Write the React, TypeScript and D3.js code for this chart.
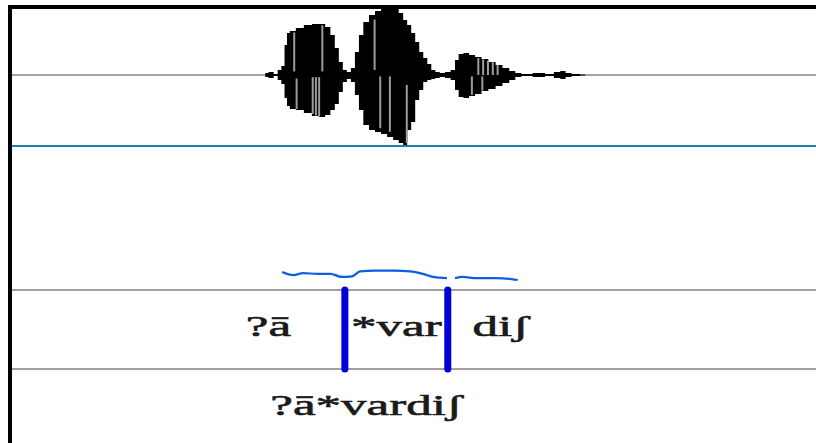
import * as d3 from "d3";

// waveform envelope, time in ms, amplitude -1..1
const envTime = [315, 323, 328, 333, 337, 341, 343, 348, 358, 368, 378, 386, 393, 399, 404, 409, 414, 419, 424, 429, 434, 440, 448, 455, 463, 470, 478, 484, 489, 494, 499, 504, 509, 514, 519, 524, 529, 535, 542, 549, 553, 558, 565, 572, 580, 588, 597, 606, 614, 623, 629, 638, 657, 669, 679, 685, 692, 700, 713];
const envTop = [0.028, 0.042, 0.014, 0.07, 0.127, 0.423, 0.592, 0.62, 0.662, 0.704, 0.718, 0.718, 0.676, 0.563, 0.38, 0.183, 0.07, 0.042, 0.099, 0.324, 0.563, 0.746, 0.845, 0.901, 0.93, 0.958, 0.944, 0.873, 0.775, 0.704, 0.592, 0.465, 0.324, 0.239, 0.155, 0.07, 0.042, 0.028, 0.042, 0.07, 0.211, 0.296, 0.31, 0.282, 0.254, 0.225, 0.183, 0.141, 0.099, 0.056, 0.028, 0.014, 0.028, 0.014, 0.042, 0.056, 0.028, 0.014, 0.007];
const envBottom = [-0.028, -0.042, -0.014, -0.07, -0.127, -0.324, -0.437, -0.479, -0.493, -0.535, -0.577, -0.592, -0.563, -0.493, -0.408, -0.239, -0.099, -0.056, -0.099, -0.282, -0.493, -0.704, -0.775, -0.803, -0.831, -0.873, -0.915, -0.958, -1.0, -0.775, -0.662, -0.352, -0.211, -0.099, -0.07, -0.056, -0.042, -0.028, -0.042, -0.07, -0.211, -0.31, -0.324, -0.296, -0.268, -0.225, -0.197, -0.155, -0.113, -0.07, -0.028, -0.014, -0.028, -0.014, -0.042, -0.056, -0.028, -0.014, -0.007];

// light striping inside the waveform: [time, from, to]
const stripes: [number, number, number][] = [
  [351, 0.6, 0.05], [354, -0.05, -0.48], [374, -0.03, -0.55], [378, -0.03, -0.57],
  [382, -0.03, -0.58], [386, 0.7, 0.05], [451, 0.78, 0.07], [458, -0.02, -0.75],
  [470, -0.02, -0.8], [491, -0.14, -0.96], [580, 0.24, 0.0], [586, 0.22, 0.0],
  [592, 0.2, 0.0], [598, 0.18, 0.0], [604, 0.14, 0.0], [572, -0.02, -0.28], [585, -0.02, -0.22],
];

// pitch (Hz), null = unvoiced gap
const pitchTime = [336, 350, 362, 381, 396, 410, 423, 433, 452, 476, 495, 511, 524, 541, 546, 551, 561, 578, 601, 619, 629];
const pitchHz: (number | null)[] = [104, 99, 102, 101, 101, 96, 97, 105, 106, 106, 105, 101, 96, 94, null, 94, 96, 94, 94, 93, 91];

// text tiers
const phoneBounds = [224, 414, 542, 674];
const phoneLabels = ["?ā", "*var", "diʃ"];
const wordBounds = [208, 674];
const wordLabels = ["?ā*vardiʃ"];

const W = 816, H = 443;

export default function App() {
  const x = d3.scaleLinear().domain([0, 1000]).range([12, 816]);
  const yWave = d3.scaleLinear().domain([-1, 1]).range([146, 4]);
  const yPitch = d3.scaleLinear().domain([75, 300]).range([290, 150]);

  const env = envTime.map((t, i) => ({ t, top: envTop[i], bot: envBottom[i] }));
  const area = d3.area<{ t: number; top: number; bot: number }>()
    .x(d => x(d.t)).y0(d => yWave(d.bot)).y1(d => yWave(d.top))
    .curve(d3.curveStep);

  const pitch = pitchTime.map((t, i) => ({ t, f: pitchHz[i] }));
  const line = d3.line<{ t: number; f: number | null }>()
    .defined(d => d.f !== null)
    .x(d => x(d.t)).y(d => yPitch(d.f as number))
    .curve(d3.curveMonotoneX);

  const tier1Top = 290, tier2Top = 369;
  const label = { textAnchor: "middle" as const, fontFamily: "'Liberation Serif', 'Times New Roman', serif", fontSize: 30, fill: "#1a1a1a", stroke: "#1a1a1a", strokeWidth: 0.6 };

  return (
    <svg width={W} height={H} style={{ position: "fixed", left: 0, top: 0, background: "#fff" }}>
      <rect width={W} height={H} fill="#fff" />
      {/* baseline */}
      <line x1={12} x2={W} y1={yWave(0)} y2={yWave(0)} stroke="#7f8a92" strokeWidth={1.5} />
      <path d={area(env) ?? ""} fill="#000" />
      {stripes.map(([t, a, b], i) => (
        <line key={i} x1={x(t)} x2={x(t)} y1={yWave(a)} y2={yWave(b)} stroke="#9c9c9c" strokeWidth={2} />
      ))}
      {/* lower edge of sound panel */}
      <line x1={12} x2={W} y1={146} y2={146} stroke="#1f7fb0" strokeWidth={2} />
      {/* pitch */}
      <path d={line(pitch) ?? ""} fill="none" stroke="#0a5fe0" strokeWidth={2.2} />
      {/* tier lines */}
      <line x1={12} x2={W} y1={tier1Top} y2={tier1Top} stroke="#808080" strokeWidth={1.5} />
      <line x1={12} x2={W} y1={tier2Top} y2={tier2Top} stroke="#808080" strokeWidth={1.5} />
      {phoneBounds.slice(1, -1).map((t, i) => (
        <line key={i} x1={x(t)} x2={x(t)} y1={tier1Top} y2={tier2Top} stroke="#0000d8" strokeWidth={7} strokeLinecap="round" />
      ))}
      {phoneLabels.map((s, i) => (
        <g key={i} transform={`translate(${x((phoneBounds[i] + phoneBounds[i + 1]) / 2)},336) scale(1.7,1)`}>
          <text {...label}>{s}</text>
        </g>
      ))}
      {wordLabels.map((s, i) => (
        <g key={i} transform={`translate(${x((wordBounds[i] + wordBounds[i + 1]) / 2)},415) scale(1.7,1)`}>
          <text {...label}>{s}</text>
        </g>
      ))}
      {/* frame */}
      <line x1={8} x2={W} y1={7} y2={7} stroke="#000" strokeWidth={4} />
      <line x1={10} x2={10} y1={5} y2={H} stroke="#000" strokeWidth={4} />
    </svg>
  );
}
